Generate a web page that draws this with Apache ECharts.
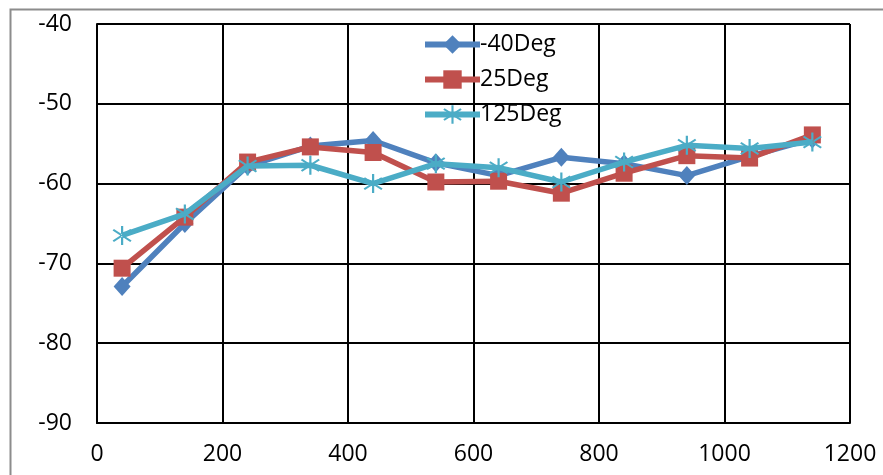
<!DOCTYPE html>
<html>
<head>
<meta charset="utf-8">
<script src="https://cdn.jsdelivr.net/npm/echarts@6/dist/echarts.min.js"></script>
<style>html,body{margin:0;padding:0;background:#fff;}#c{width:883px;height:475px;}</style>
</head>
<body>
<div id="c"></div>
<script>
var xValues = [40, 140, 240, 340, 440, 540, 640, 740, 840, 940, 1040, 1140];
var seriesNames = ['-40Deg', '25Deg', '125Deg'];
var minus40 = [-72.9, -65.0, -57.8, -55.3, -54.6, -57.4, -59.0, -56.7, -57.5, -59.0, -56.6, -54.4];
var plus25 = [-70.6, -64.2, -57.3, -55.4, -56.1, -59.8, -59.7, -61.2, -58.7, -56.5, -56.8, -53.9];
var plus125 = [-66.5, -63.8, -57.8, -57.7, -60.0, -57.5, -58.0, -59.8, -57.3, -55.2, -55.6, -54.8];
var xTicks = [0, 200, 400, 600, 800, 1000, 1200];
var yTicks = [-90, -80, -70, -60, -50, -40];

function pairs(ys) { return xValues.map(function (x, i) { return [x, ys[i]]; }); }

var asterisk = 'path://M9 0 L11 0 L11 20 L9 20 Z M1.4 4.8 L17.4 16.8 L18.6 15.2 L2.6 3.2 Z M2.6 16.8 L18.6 4.8 L17.4 3.2 L1.4 15.2 Z';
var font = 'Open Sans';
var chart = echarts.init(document.getElementById('c'));
chart.setOption({
  animation: false,
  backgroundColor: '#fff',
  graphic: [{
    type: 'rect', left: 8, top: 7, silent: true,
    shape: { width: 900, height: 500 },
    style: { fill: 'none', stroke: '#8c8c8c', lineWidth: 2 }
  }],
  grid: { left: 97, top: 24, width: 753, height: 399 },
  xAxis: {
    type: 'value', min: xTicks[0], max: xTicks[xTicks.length - 1], interval: 200,
    axisLine: { show: true, lineStyle: { color: '#000', width: 2 } },
    axisTick: { show: false },
    splitLine: { show: true, lineStyle: { color: '#000', width: 2 } },
    axisLabel: { color: '#000', fontFamily: font, fontSize: 23, margin: 20,
      formatter: function (v) { return String(v); } }
  },
  yAxis: {
    type: 'value', min: yTicks[0], max: yTicks[yTicks.length - 1], interval: 10,
    axisLine: { show: true, lineStyle: { color: '#000', width: 2 } },
    axisTick: { show: false },
    splitLine: { show: true, lineStyle: { color: '#000', width: 2 } },
    axisLabel: { color: '#000', fontFamily: font, fontSize: 23, margin: 25,
      formatter: function (v) { return String(v); } }
  },
  legend: {
    orient: 'vertical', left: 417, top: 28, itemWidth: 55, itemHeight: 23, itemGap: 12,
    lineStyle: { width: 6 },
    textStyle: { color: '#000', fontFamily: font, fontSize: 23, lineHeight: 23, padding: [0, 0, 0, -5] },
    data: seriesNames
  },
  series: [
    { name: seriesNames[0], type: 'line', data: pairs(minus40), symbol: 'diamond', symbolSize: [17, 19],
      color: '#4F81BD', lineStyle: { width: 5.5, color: '#4F81BD' }, itemStyle: { color: '#4F81BD' }, z: 2 },
    { name: seriesNames[1], type: 'line', data: pairs(plus25), symbol: 'rect', symbolSize: 17,
      color: '#C0504D', lineStyle: { width: 5.5, color: '#C0504D' }, itemStyle: { color: '#C0504D' }, z: 3 },
    { name: seriesNames[2], type: 'line', data: pairs(plus125), symbol: asterisk, symbolSize: 19,
      color: '#4BACC6', lineStyle: { width: 5.5, color: '#4BACC6' }, itemStyle: { color: '#4BACC6' }, z: 4 }
  ]
});
</script>
</body>
</html>
